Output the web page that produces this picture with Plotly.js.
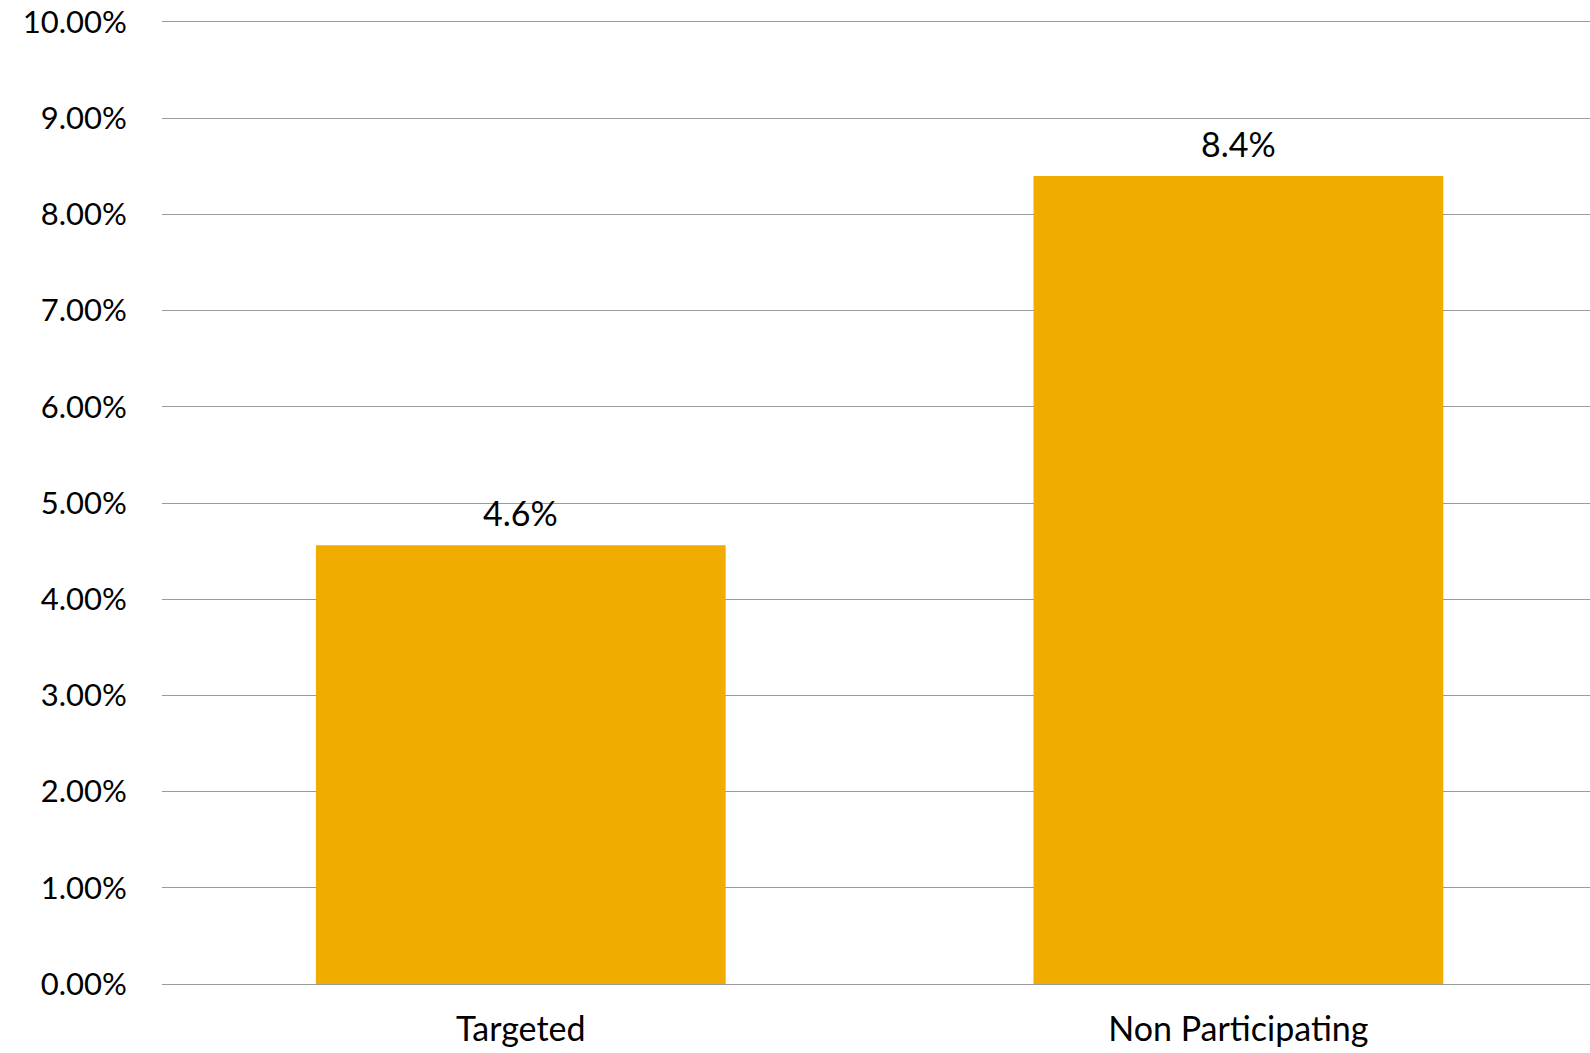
<!DOCTYPE html>
<html>
<head>
<meta charset="utf-8">
<script src="https://cdn.plot.ly/plotly-3.0.1.min.js"></script>
<style>html,body{margin:0;padding:0;background:#fff;}#chart{width:1590px;height:1053px;}</style>
</head>
<body>
<div id="chart"></div>
<script>
const categories = ["Targeted", "Non Participating"];
const values = [0.0456, 0.084];
const valueLabels = ["4.6%", "8.4%"];
const tickValues = [0, 0.01, 0.02, 0.03, 0.04, 0.05, 0.06, 0.07, 0.08, 0.09, 0.10];

const fontFamily = "Lato, 'Open Sans', sans-serif";

const annotations = categories.map((c, i) => ({
  x: c, y: values[i], xref: "x", yref: "y",
  text: valueLabels[i], showarrow: false,
  yanchor: "bottom", yshift: 10,
  font: {family: fontFamily, size: 34, color: "#000"}
}));

Plotly.newPlot("chart", [{
  type: "bar",
  x: categories,
  y: values,
  marker: {color: "#F0AD00"},
  hoverinfo: "x+y"
}], {
  width: 1590,
  height: 1053,
  margin: {l: 162, r: 0, t: 22, b: 69},
  paper_bgcolor: "#fff",
  plot_bgcolor: "#fff",
  bargap: 0.429,
  showlegend: false,
  font: {family: fontFamily, color: "#000"},
  annotations: annotations,
  xaxis: {
    range: [-0.5, 1.49],
    showgrid: false,
    showline: true,
    mirror: true,
    linecolor: "#9a9a9a",
    linewidth: 1.3,
    ticks: "outside",
    ticklen: 15,
    tickcolor: "rgba(0,0,0,0)",
    tickfont: {family: fontFamily, size: 34, color: "#000"}
  },
  yaxis: {
    range: [0, 0.10],
    tickvals: tickValues,
    tickformat: ".2%",
    ticklabeloverflow: "allow",
    showgrid: true,
    gridcolor: "#9a9a9a",
    gridwidth: 1.3,
    zeroline: true,
    zerolinecolor: "#9a9a9a",
    zerolinewidth: 1.3,
    showline: false,
    ticks: "outside",
    ticklen: 28,
    tickcolor: "rgba(0,0,0,0)",
    tickfont: {family: fontFamily, size: 31, color: "#000"}
  }
}, {displayModeBar: false});
</script>
</body>
</html>
